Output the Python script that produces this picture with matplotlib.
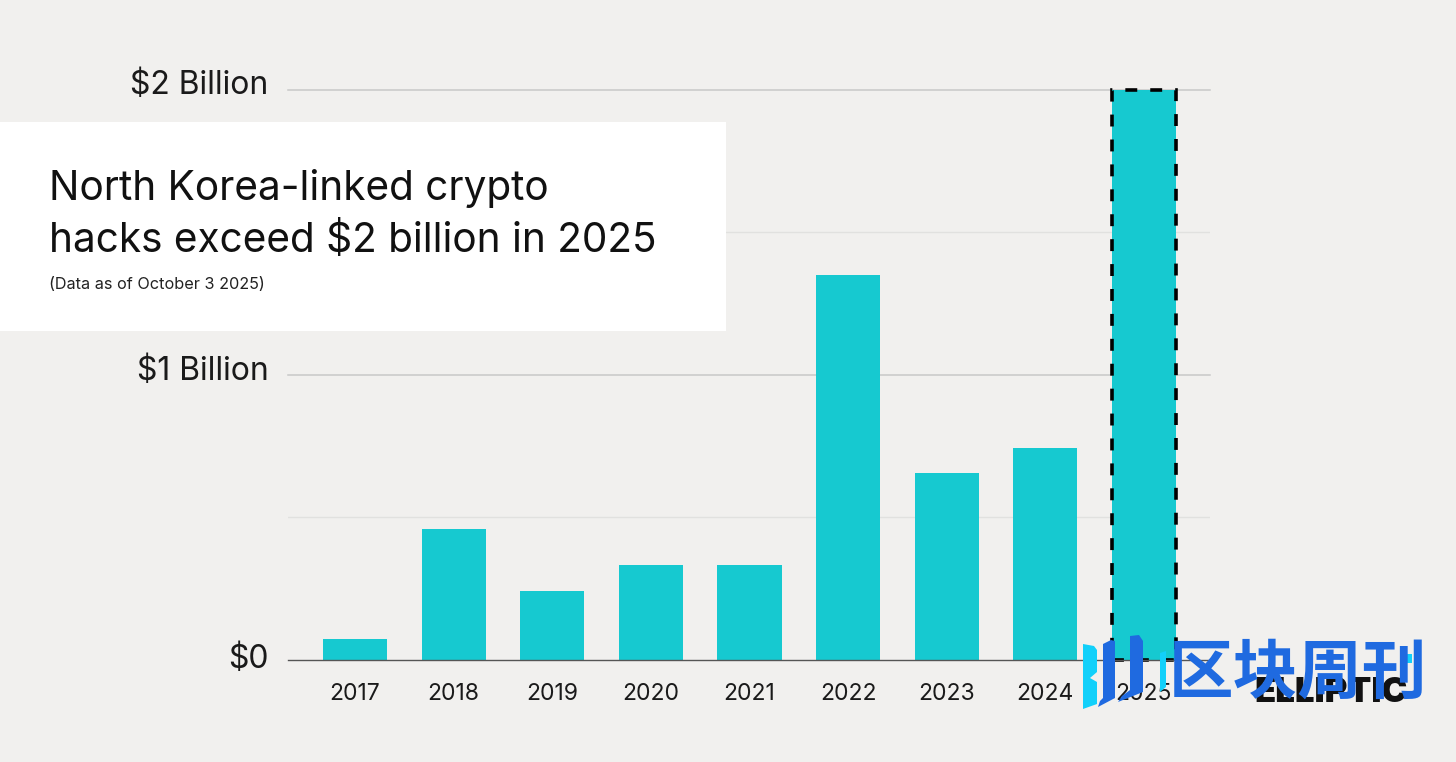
import matplotlib
matplotlib.use("Agg")
import matplotlib.pyplot as plt
from matplotlib.patches import Polygon, Rectangle
from matplotlib.transforms import ScaledTranslation

years = ["2017", "2018", "2019", "2020", "2021", "2022", "2023", "2024", "2025"]
hacks_billion = [0.072, 0.458, 0.24, 0.332, 0.332, 1.35, 0.654, 0.742, 2.0]
major_ticks = [0, 1, 2]
major_labels = ["$0", "$1 Billion", "$2 Billion"]
minor_ticks = [0.5, 1.5]

W, H = 1456, 762
BG = "#f1f0ee"
TEAL = "#16c9d0"
BLUE = "#1f6ae0"
CYAN = "#12d0fa"

plt.rcParams["font.family"] = ["Inter", "DejaVu Sans"]

fig = plt.figure(figsize=(W / 100, H / 100), dpi=100)
fig.patch.set_facecolor(BG)

# Axes placed in pixel terms: x 288-1210, y 89.5-659.5
ax = fig.add_axes([288 / W, 1 - 659.5 / H, (1210 - 288) / W, 570 / H])
ax.set_facecolor("none")
ax.set_xlim(-0.68, 8.67)
ax.set_ylim(0, 2)
for side in ("top", "right", "left"):
    ax.spines[side].set_visible(False)
ax.spines["bottom"].set_color("#555555")
ax.spines["bottom"].set_linewidth(1)

for v in major_ticks[1:]:
    ax.axhline(v, color="#c8c8c8", linewidth=1.1, zorder=1, clip_on=False)
for v in minor_ticks:
    ax.axhline(v, color="#e1e1df", linewidth=1, zorder=1)

xs = list(range(len(years)))
bars = ax.bar(xs, hacks_billion, width=0.65, color=TEAL, zorder=2)
last = bars[-1]
last.set_edgecolor("black")
last.set_linewidth(2.6)
last.set_linestyle((0, (3.3, 3.6)))
last.set_clip_on(False)

ax.set_xticks(xs)
ax.set_xticklabels(years)
ax.set_yticks(major_ticks)
ax.set_yticklabels(major_labels)
ax.tick_params(axis="x", length=0, pad=17, labelsize=16.5, labelcolor="#1a1a1a")
ax.tick_params(axis="y", length=0, pad=14, labelsize=23, labelcolor="#1a1a1a")

# The value labels sit a little above their gridlines
for label, dy_px in zip(ax.get_yticklabels(), [3.5, 6.5, 7.5]):
    label.set_transform(label.get_transform() + ScaledTranslation(0, dy_px / 100, fig.dpi_scale_trans))

# Title card
fig.add_artist(Rectangle((0, 1 - 331 / H), 726 / W, 209 / H, transform=fig.transFigure,
                         facecolor="white", edgecolor="none", zorder=5))
fig.text(49 / W, 1 - 188 / H, "North Korea-linked crypto", fontsize=29.2, color="#111111",
         va="center", ha="left", zorder=6)
fig.text(49 / W, 1 - 240 / H, "hacks exceed $2 billion in 2025", fontsize=29.2, color="#111111",
         va="center", ha="left", zorder=6)
fig.text(49 / W, 1 - 284 / H, "(Data as of October 3 2025)", fontsize=11.7, color="#222222",
         va="center", ha="left", zorder=6)

# Logo underneath the watermark
fig.text(1331 / W, 1 - 693 / H, "ELLIPTIC", fontsize=25, fontweight="black", color="#111111",
         va="center", ha="center", zorder=6)


def px_poly(points, color):
    pts = [(x / W, 1 - y / H) for x, y in points]
    fig.add_artist(Polygon(pts, closed=True, transform=fig.transFigure,
                           facecolor=color, edgecolor="none", zorder=7))


# Watermark mark
px_poly([(1083, 644), (1094, 646), (1097, 650), (1097, 672), (1090, 678), (1097, 682),
         (1097, 704), (1083, 709)], CYAN)
px_poly([(1103, 644), (1111, 640), (1115, 641), (1115, 698), (1098, 707), (1100, 701), (1103, 698)], BLUE)
px_poly([(1130, 636), (1139, 635), (1143, 641), (1143, 692), (1118, 702), (1122, 696),
         (1130, 690)], BLUE)
px_poly([(1160, 653), (1166, 651), (1166, 687), (1160, 692)], CYAN)

fig.text(1298 / W, 1 - 674 / H, "区块周刊", fontsize=46.5, fontweight="bold", color=BLUE,
         family=["Noto Sans CJK SC", "DejaVu Sans"], va="center", ha="center", zorder=8)
px_poly([(1405, 654), (1412, 654), (1412, 663), (1405, 663)], CYAN)

fig.savefig("out.png", dpi=100, facecolor=BG)
